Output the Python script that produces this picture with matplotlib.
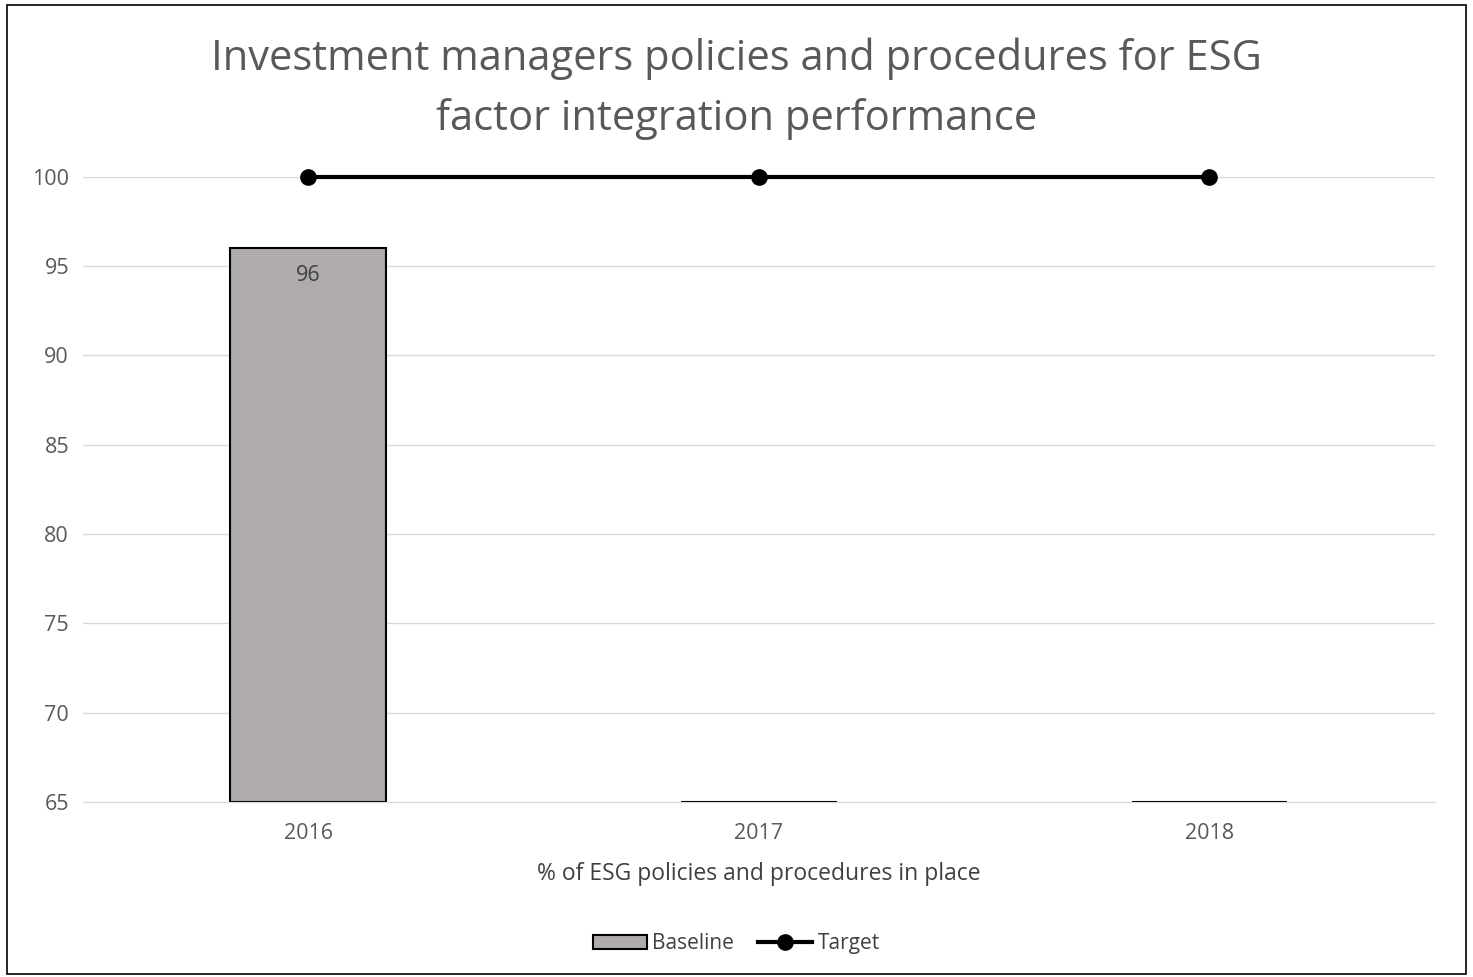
import matplotlib.pyplot as plt
from matplotlib.patches import Rectangle
from matplotlib.lines import Line2D

# chart data
years = ["2016", "2017", "2018"]
baseline = [96, 65, 65]
target = [100, 100, 100]
y_ticks = [65, 70, 75, 80, 85, 90, 95, 100]

plt.rcParams['font.family'] = ['Open Sans', 'DejaVu Sans']

fig = plt.figure(figsize=(14.73, 9.77), dpi=100)
ax = fig.add_axes([0.0563, 0.179, 0.9177, 0.640])

x = range(len(years))
floor = y_ticks[0]

# bars start at the axis floor
bars = ax.bar(x, [v - floor for v in baseline], bottom=floor, width=0.345,
              color='#afabab', edgecolor='black', linewidth=1.5,
              label='Baseline', zorder=2)
ax.plot(x, target, color='black', linewidth=3, marker='o', markersize=11,
        label='Target', zorder=3, clip_on=False)

# data label inside the top of the first bar
ax.text(0, baseline[0] - 0.95, str(baseline[0]), ha='center', va='top',
        fontsize=15.5, color='#404040')

ax.set_xlim(-0.5, 2.5)
ax.set_ylim(65, 100)
ax.set_yticks(y_ticks)
ax.set_xticks(list(x))
ax.set_xticklabels(years)
ax.tick_params(axis='both', length=0, labelsize=15.5, colors='#595959')
ax.tick_params(axis='x', pad=15)
ax.tick_params(axis='y', pad=10)
ax.grid(axis='y', color='#d9d9d9', linewidth=1, zorder=0)
ax.set_axisbelow(True)
for side in ['top', 'right', 'left']:
    ax.spines[side].set_visible(False)
ax.spines['bottom'].set_color('#d9d9d9')

ax.set_xlabel('% of ESG policies and procedures in place', fontsize=16.5,
              color='#404040', labelpad=13)

fig.text(0.5, 0.909, 'Investment managers policies and procedures for ESG\nfactor integration performance',
         ha='center', va='center', fontsize=30, color='#595959', linespacing=1.55)

handles = [Rectangle((0, 0), 1, 1, facecolor='#afabab', edgecolor='black', linewidth=1.5),
           Line2D([], [], color='black', linewidth=3, marker='o', markersize=11)]
fig.legend(handles, ['Baseline', 'Target'], loc='center', bbox_to_anchor=(0.5, 0.034),
           ncol=2, frameon=False, fontsize=15, labelcolor='#404040',
           handlelength=2.6, handletextpad=0.25, columnspacing=1.15)

# frame around the whole chart
fig.patches.append(Rectangle((0.005, 0.003), 0.99, 0.992, transform=fig.transFigure,
                             fill=False, edgecolor='black', linewidth=1.2))

fig.savefig('out.png', dpi=100)
